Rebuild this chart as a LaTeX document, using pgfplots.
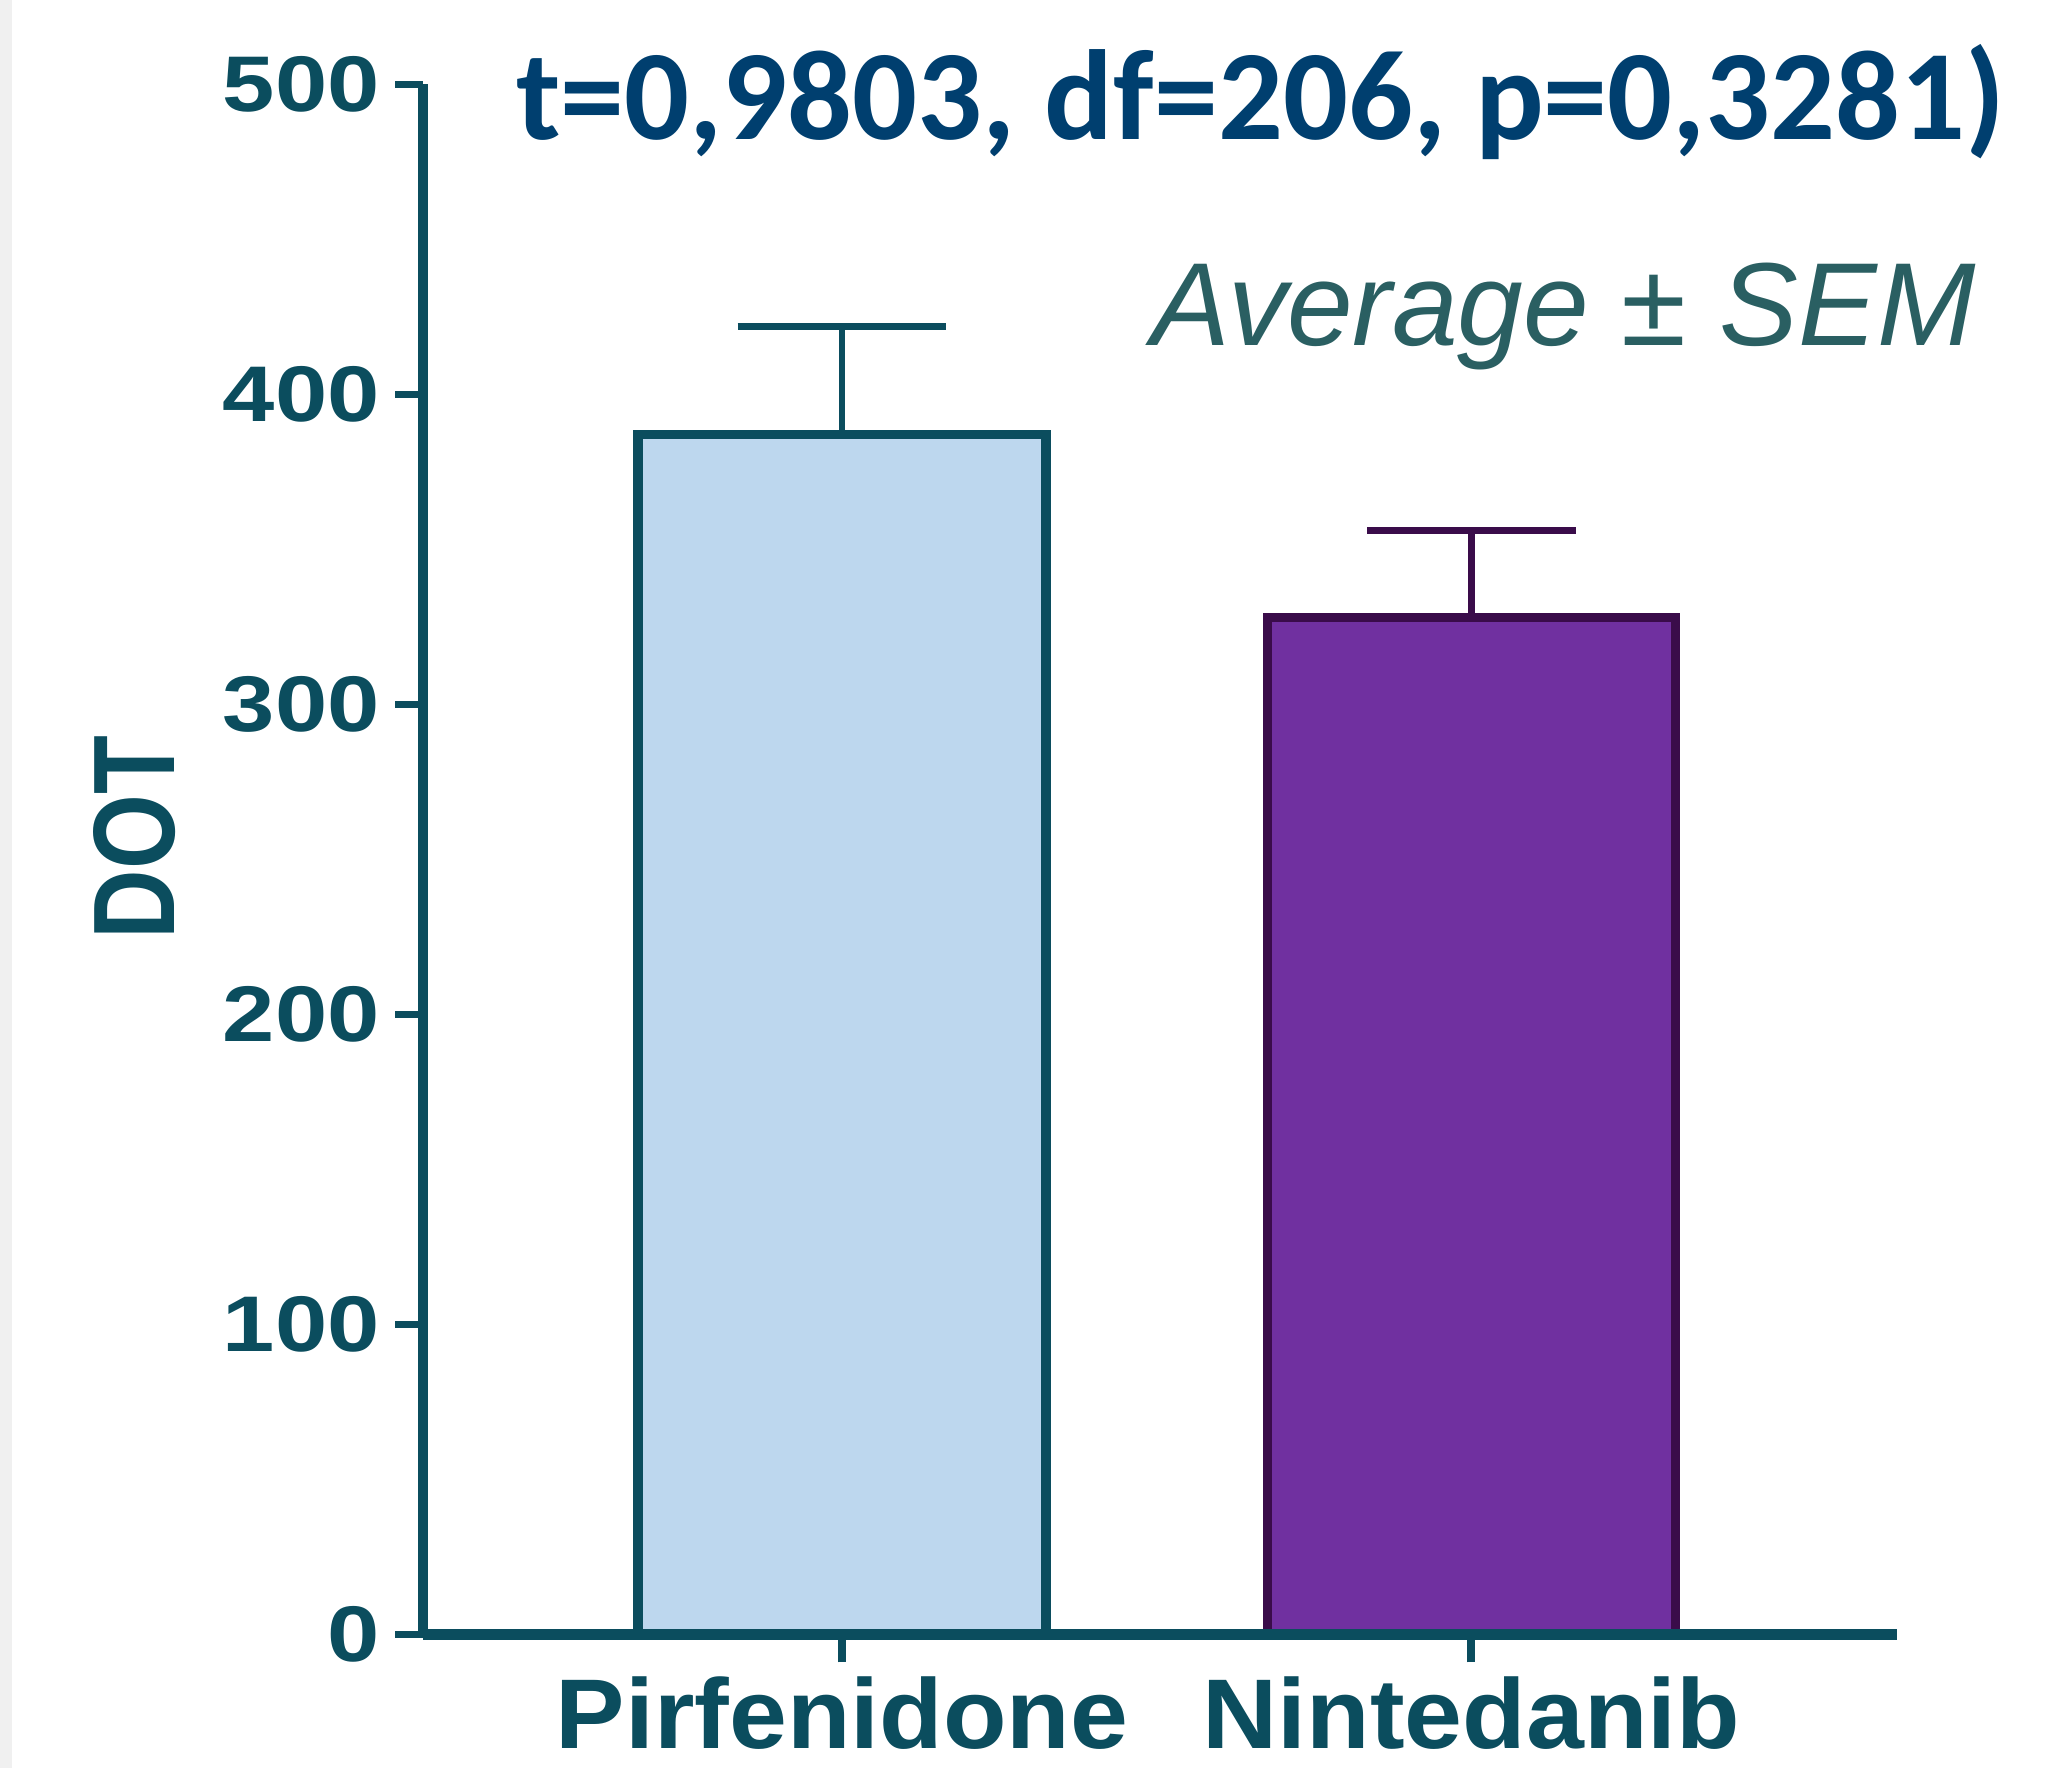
\documentclass[border=0pt]{standalone}
\usepackage{fontspec}
\setmainfont{Liberation Sans}
\newfontfamily\calibri{Carlito}
\newfontfamily\ytickfont{Liberation Sans}[FakeStretch=1.19]
\newfontfamily\xtickfont{Liberation Sans}[FakeStretch=1.05]
\usepackage{graphicx}
\usepackage{pgfplots}
\pgfplotsset{compat=1.18}

\definecolor{axiscol}{HTML}{0B4D5E}
\definecolor{titlecol}{HTML}{003F6F}
\definecolor{avgcol}{HTML}{2A5F62}
\definecolor{pirfill}{HTML}{BDD7EE}
\definecolor{pirdraw}{HTML}{0B4D5E}
\definecolor{ninfill}{HTML}{7030A0}
\definecolor{nindraw}{HTML}{3A0C4A}

\begin{document}
\begin{tikzpicture}
\useasboundingbox (-79.9pt,-25.15pt) rectangle (310.1pt,308.55pt);
\fill[black!6] (-79.9pt,-25.15pt) rectangle (-77.6pt,308.55pt);
\begin{axis}[
    scale only axis,
    width=278.1pt, height=292.6pt,
    clip=false,
    axis on top,
    ybar, bar shift=0pt,
    xmin=-0.6654, xmax=1.6755,
    ymin=0, ymax=500,
    axis x line*=bottom, axis y line*=left,
    axis line style={line width=1.9pt, draw=axiscol, -},
    tick align=outside,
    major tick length=5.25pt,
    major tick style={line width=1.5pt, draw=axiscol},
    xtick={0,1},
    xticklabels={Pirfenidone,Nintedanib},
    ytick={0,100,...,500},
    /pgf/number format/assume math mode=true,
    yticklabel style={font=\ytickfont\bfseries\fontsize{14.9}{14.9}\selectfont, text=axiscol,
        inner sep=0pt, anchor=east, xshift=-2.8pt},
    xticklabel style={font=\xtickfont\bfseries\fontsize{18.7}{18.7}\selectfont, text=axiscol,
        inner sep=0pt, anchor=north, yshift=-2.6pt},
    ylabel={\scalebox{0.83}[1]{DOT}},
    ylabel style={at={(axis description cs:-0.1686,0.514)}, anchor=base,
        font=\bfseries\fontsize{21.9}{21.9}\selectfont, text=axiscol},
]
\addplot[fill=pirfill, draw=pirdraw, line width=1.75pt, bar width=77pt,
    error bars/.cd, y dir=plus, y explicit, error mark=|,
    error bar style={line width=1.3pt, draw=pirdraw},
    error mark options={line width=1.3pt, mark size=19.7pt, draw=pirdraw}]
    coordinates {(0,387) +- (0,35)};
\addplot[fill=ninfill, draw=nindraw, line width=1.75pt, bar width=77pt,
    error bars/.cd, y dir=plus, y explicit, error mark=|,
    error bar style={line width=1.3pt, draw=nindraw},
    error mark options={line width=1.3pt, mark size=19.7pt, draw=nindraw}]
    coordinates {(1,328) +- (0,28)};
\node[anchor=base west, inner sep=0pt, text=titlecol,
    font=\calibri\bfseries\fontsize{24.2}{24.2}\selectfont]
    at (rel axis cs:0.0625,0.9642) {t=0,9803, df=206, p=0,3281)};
\node[anchor=base west, inner sep=0pt, text=avgcol,
    font=\itshape\fontsize{22.3}{22.3}\selectfont]
    at (rel axis cs:0.4935,0.8315) {Average ± SEM};
\end{axis}
\end{tikzpicture}
\end{document}
